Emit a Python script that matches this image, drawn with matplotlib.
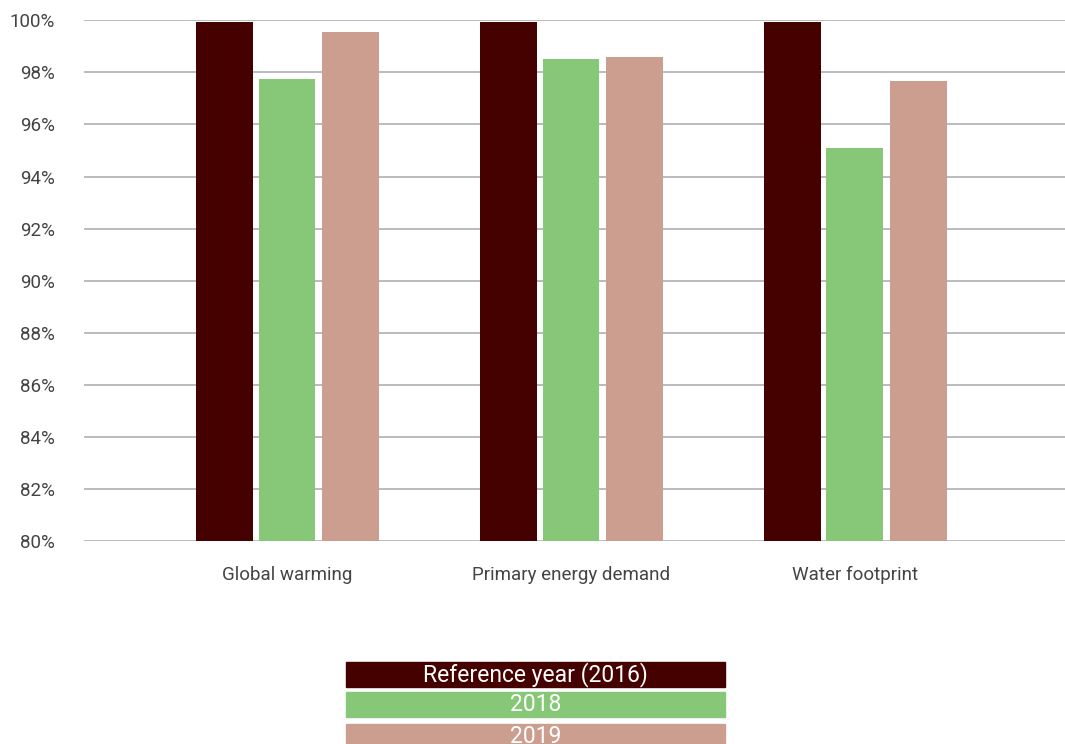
import matplotlib
matplotlib.use("Agg")
import matplotlib.pyplot as plt
from matplotlib.patches import Rectangle
from matplotlib.ticker import FuncFormatter, MultipleLocator
import numpy as np

categories = ["Global warming", "Primary energy demand", "Water footprint"]
series_names = ["Reference year (2016)", "2018", "2019"]
ref_2016 = [99.95, 99.95, 99.95]
y2018 = [97.75, 98.5, 95.1]
y2019 = [99.56, 98.6, 97.68]
colors = ["#450000", "#86C878", "#CC9E8F"]

plt.rcParams['font.family'] = ['Roboto', 'DejaVu Sans']

W, H = 1065, 744
fig = plt.figure(figsize=(W / 100, H / 100), dpi=100)
ax = fig.add_axes([84 / W, 1 - 540.5 / H, (W - 84) / W, (540.5 - 20.5) / H])

x = np.arange(len(categories))
width = 0.2
offsets = [-0.22, 0.0, 0.223]
for vals, off, col in zip([ref_2016, y2018, y2019], offsets, colors):
    ax.bar(x + off, np.array(vals) - 80, bottom=80, width=width, color=col, zorder=3)

ax.set_ylim(80, 100)
ax.set_xlim(-0.715, 2.74)
ax.yaxis.set_major_locator(MultipleLocator(2))
ax.yaxis.set_major_formatter(FuncFormatter(lambda v, p: f"{v:.0f}%"))
ax.grid(axis='y', color='#b4b4ba', linewidth=1.3, zorder=0)
for s in ["top", "right", "left", "bottom"]:
    ax.spines[s].set_visible(False)
ax.tick_params(axis='both', length=0, labelsize=13.5, labelcolor='#444444')
ax.tick_params(axis='y', pad=21)
ax.set_xticks(x)
ax.set_xticklabels(categories)
ax.tick_params(axis='x', pad=18)

# legend boxes
boxes = [(662, 686.5), (692, 716.5), (724, 748.5)]
for (y0, y1), name, col in zip(boxes, series_names, colors):
    fig.patches.append(Rectangle((346 / W, 1 - y1 / H), (725 - 346) / W, (y1 - y0) / H,
                                 transform=fig.transFigure, color=col, zorder=1))
    fig.text((346 + 725) / 2 / W, 1 - (y0 + y1) / 2 / H, name, color='white',
             ha='center', va='center', fontsize=16.5, zorder=2)

fig.savefig("out.png", dpi=100, facecolor='white')
